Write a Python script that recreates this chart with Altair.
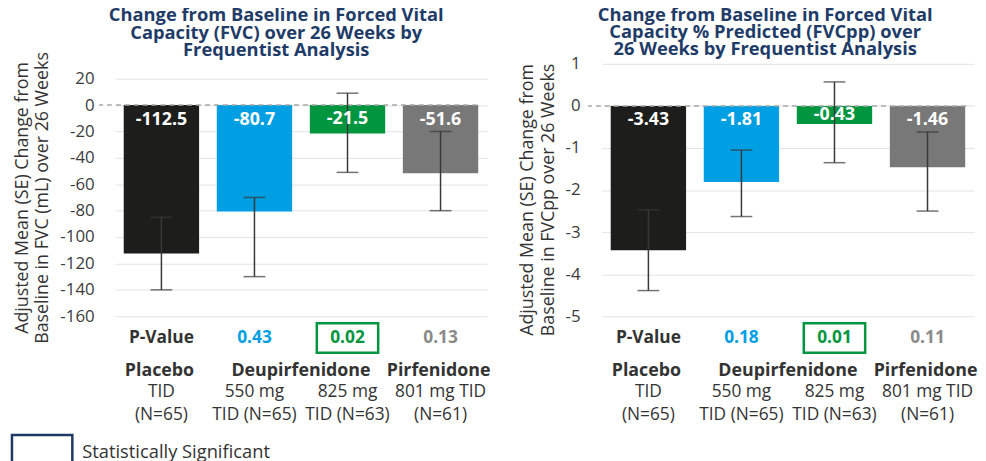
import altair as alt
import pandas as pd

# ---- data ----
cats = ["Placebo", "Deu550", "Deu825", "Pirf"]
line2 = ["TID", "550 mg", "825 mg", "801 mg TID"]
line3 = ["(N=65)", "TID (N=65)", "TID (N=63)", "(N=61)"]
bar_colors = ["#1d1d1b", "#009fe3", "#009640", "#787878"]
p_colors = ["#333333", "#009fe3", "#009640", "#8a8a8a"]
groups = ["Placebo", "Deupirfenidone", "Pirfenidone"]
group_at = ["Placebo", "Deu550", "Pirf"]

fvc_mean = [-112.5, -80.7, -21.5, -51.6]
fvc_low = [-140, -130, -51, -80]
fvc_high = [-85, -70, 9, -20]
fvc_p = ["P-Value", "0.43", "0.02", "0.13"]
fvc_sig = [False, False, True, False]
fvc_ticks = [20, 0, -20, -40, -60, -80, -100, -120, -140, -160]

pp_mean = [-3.43, -1.81, -0.43, -1.46]
pp_low = [-4.39, -2.63, -1.35, -2.50]
pp_high = [-2.47, -1.05, 0.57, -0.62]
pp_p = ["P-Value", "0.18", "0.01", "0.11"]
pp_sig = [False, False, True, False]
pp_ticks = [1, 0, -1, -2, -3, -4, -5]

FONT = "Open Sans"
TXT = "#333333"
W, H = 382, 255
MINUS = "\u2212"


def panel(title, ytitle, mean, low, high, pvals, sig, domain, ticks, fmt,
          label_cap, xrange, lab_pad, title_dy, axis_title_y, legend=False):
    df = pd.DataFrame({"cat": cats, "mean": mean, "low": low, "high": high,
                       "p": pvals, "pcol": p_colors, "sig": sig,
                       "l2": line2, "l3": line3, "bcol": bar_colors})
    gdf = pd.DataFrame({"g": groups, "at": group_at})
    xs = alt.Scale(domain=cats, range=xrange, paddingInner=0.19, paddingOuter=0.095)
    X = alt.X("cat:N", scale=xs, axis=None, sort=cats)
    ys = alt.Scale(domain=domain, nice=False, zero=False)
    yax = alt.Axis(values=ticks, labelPadding=lab_pad,
                   labelExpr="'' + datum.value", grid=True,
                   gridColor="#e3e3e3", domain=False, ticks=False,
                   labelOverlap=False, titleY=axis_title_y)

    def Y(field=None, datum=None):
        if datum is not None:
            return alt.Y(datum=datum, type="quantitative", scale=ys,
                         axis=yax, title=ytitle)
        return alt.Y(field, type="quantitative", scale=ys, axis=yax,
                     title=ytitle)

    base = alt.Chart(df)

    bars = base.mark_bar().encode(
        x=X, y=Y("mean"), y2=alt.datum(0),
        color=alt.Color("bcol:N", scale=None),
    )
    zero = alt.Chart().mark_rule(strokeDash=[5, 4], color="#a8a8a8",
                                 strokeWidth=1.5).encode(y=Y(datum=0))
    err = base.mark_rule(color="#383838", strokeWidth=1.5).encode(
        x=X, y=Y("low"), y2="high:Q")
    cap_lo = base.mark_tick(color="#383838", thickness=1.5, size=22).encode(
        x=X, y=Y("low"))
    cap_hi = base.mark_tick(color="#383838", thickness=1.5, size=22).encode(
        x=X, y=Y("high"))
    labels = base.transform_calculate(
        ly=f"max(datum.mean / 2, {label_cap})",
        txt=f"replace(format(datum.mean, '{fmt}'), '{MINUS}', '-')",
    ).mark_text(color="white", fontWeight="bold", fontSize=18, font=FONT,
                baseline="middle").encode(
        x=X, y=Y("ly"), text="txt:N")
    ptxt = base.mark_text(fontWeight="bold", fontSize=17.5, font=FONT,
                          baseline="middle").encode(
        x=X, y=alt.value(277), text="p:N", color=alt.Color("pcol:N", scale=None))
    pbox = base.transform_filter("datum.sig").mark_bar(
        filled=False, color="#009640", strokeWidth=2.5, width=62).encode(
        x=X, y=alt.value(262), y2=alt.value(292))
    gbase = alt.Chart(gdf).encode(
        x=alt.X("at:N", scale=xs, axis=None), y=alt.value(310), text="g:N")
    g_one = gbase.transform_filter("datum.g != 'Deupirfenidone'").mark_text(
        fontWeight="bold", fontSize=18, font=FONT, baseline="middle", color=TXT,
        dx=-2)
    # Deupirfenidone straddles two bands: shift it by half a band
    g_two = gbase.transform_filter("datum.g == 'Deupirfenidone'").mark_text(
        fontWeight="bold", fontSize=18, font=FONT, baseline="middle",
        color=TXT, dx=47)
    l2 = base.mark_text(fontSize=17.5, font=FONT, baseline="middle",
                        color=TXT).encode(x=X, y=alt.value(332), text="l2:N")
    l3 = base.mark_text(fontSize=17.5, font=FONT, baseline="middle",
                        color=TXT).encode(x=X, y=alt.value(355), text="l3:N")
    layers = [bars, zero, err, cap_lo, cap_hi, labels, ptxt, pbox,
              g_one, g_two, l2, l3]
    if legend:
        lbox = alt.Chart().mark_rect(filled=False, stroke="#1f3864",
                                     strokeWidth=2.5).encode(
            x=alt.value(-88), x2=alt.value(-27),
            y=alt.value(375), y2=alt.value(412))
        ltxt = alt.Chart().mark_text(text="Statistically Significant",
                                     fontSize=18.5, font=FONT, color=TXT,
                                     align="left", baseline="middle").encode(
            x=alt.value(-17), y=alt.value(392))
        layers += [lbox, ltxt]
    return alt.layer(*layers).properties(
        width=W, height=H, title=alt.TitleParams(title, dx=-12, dy=title_dy))


left = panel(["Change from Baseline in Forced Vital",
              "Capacity (FVC) over 26 Weeks by", "Frequentist Analysis"],
             ["Adjusted Mean (SE) Change from",
              "Baseline in FVC (mL) over 26 Weeks"],
             fvc_mean, fvc_low, fvc_high, fvc_p, fvc_sig,
             [-160, 31.25], fvc_ticks, ".1f", -11.25, [16, 392], 5, 4, 135,
             legend=True)
right = panel(["Change from Baseline in Forced Vital",
               "Capacity % Predicted (FVCpp) over",
               "26 Weeks by Frequentist Analysis"],
              ["Adjusted Mean (SE) Change from",
               "Baseline in FVCpp over 26 Weeks"],
              pp_mean, pp_low, pp_high, pp_p, pp_sig,
              [-5, 1], pp_ticks, ".2f", -0.34, [14, 390], 8, 0, 137)

chart = alt.hconcat(left, right, spacing=27).properties(
    padding={"left": 2, "top": -5, "right": 0, "bottom": 0}
).configure_view(stroke=None).configure_axis(
    labelFontSize=17, labelColor="#3c3c3c", labelFont=FONT,
    titleFontSize=18, titleFont=FONT,
    titleFontWeight="normal", titleColor=TXT, titlePadding=8,
    titleLineHeight=21,
).configure_title(
    anchor="middle", fontSize=18.5, font=FONT, fontWeight="bold",
    color="#1f3c68", lineHeight=17.5, offset=-4,
)

chart.save("out.html", embed_options={"renderer": "svg", "actions": False})
